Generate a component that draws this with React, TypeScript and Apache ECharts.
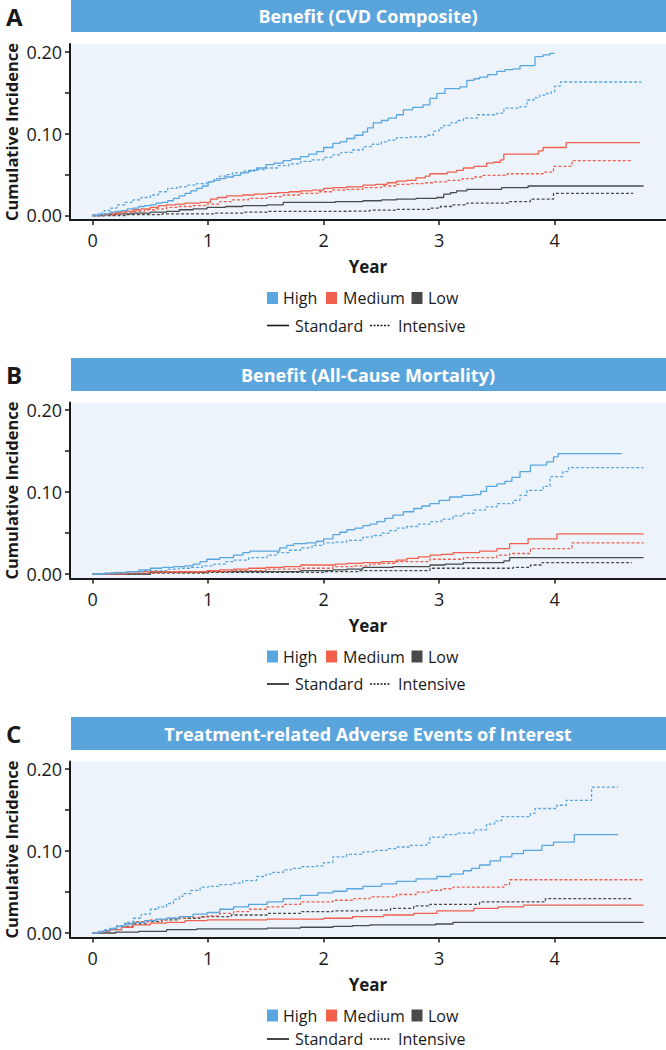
import React, { useEffect, useRef } from "react";
import * as echarts from "echarts";

const W = 666;
const H = 1050;
const FONT = '"Open Sans", "Noto Sans", sans-serif';

const PANEL_OFFSETS = [0, 358.5, 717.5];
const PANEL_LETTERS = ["A", "B", "C"];
const PANEL_TITLES = [
  "Benefit (CVD Composite)",
  "Benefit (All-Cause Mortality)",
  "Treatment-related Adverse Events of Interest",
];
const Y_NAME = "Cumulative Incidence";
const X_NAME = "Year";
const X_TICKS = [0, 1, 2, 3, 4];
const Y_TICKS = [0, 0.05, 0.1, 0.15, 0.2];
const Y_LABELS = [0, 0.1, 0.2];
const ARMS = ["Standard", "Intensive"];
const COLORS = { High: "#5AA6DF", Medium: "#F0604C", Low: "#4A4A4A" };

// Panel A: CVD composite
const aHighStd = [[0,0],[0.05,0.001],[0.1,0.002],[0.15,0.004],[0.2,0.005],[0.25,0.006],[0.3,0.008],[0.35,0.009],[0.4,0.011],[0.45,0.012],[0.5,0.013],[0.55,0.015],[0.6,0.016],[0.65,0.018],[0.7,0.021],[0.75,0.024],[0.8,0.027],[0.85,0.03],[0.9,0.033],[0.95,0.036],[1.0,0.041],[1.05,0.043],[1.1,0.045],[1.15,0.047],[1.22,0.049],[1.28,0.052],[1.35,0.055],[1.42,0.058],[1.5,0.062],[1.57,0.064],[1.65,0.067],[1.72,0.069],[1.8,0.072],[1.87,0.075],[1.94,0.078],[2.0,0.083],[2.08,0.088],[2.14,0.09],[2.2,0.094],[2.27,0.098],[2.34,0.102],[2.38,0.107],[2.43,0.113],[2.5,0.116],[2.56,0.119],[2.63,0.123],[2.69,0.129],[2.77,0.132],[2.86,0.135],[2.92,0.143],[2.98,0.149],[3.05,0.155],[3.18,0.157],[3.24,0.165],[3.3,0.167],[3.35,0.169],[3.42,0.172],[3.5,0.176],[3.57,0.178],[3.64,0.179],[3.7,0.183],[3.83,0.194],[3.9,0.196],[3.96,0.198],[4.0,0.198]];
const aHighInt = [[0,0],[0.05,0.003],[0.1,0.006],[0.15,0.009],[0.21,0.013],[0.28,0.016],[0.35,0.019],[0.42,0.022],[0.5,0.025],[0.57,0.029],[0.65,0.033],[0.73,0.035],[0.81,0.037],[0.9,0.039],[0.99,0.041],[1.05,0.045],[1.1,0.048],[1.15,0.05],[1.21,0.052],[1.3,0.054],[1.4,0.056],[1.5,0.058],[1.6,0.061],[1.7,0.063],[1.8,0.066],[1.9,0.068],[2.0,0.071],[2.08,0.074],[2.15,0.077],[2.25,0.08],[2.34,0.084],[2.42,0.087],[2.5,0.09],[2.56,0.092],[2.63,0.095],[2.75,0.096],[2.89,0.098],[2.95,0.103],[3.0,0.107],[3.04,0.11],[3.1,0.113],[3.15,0.116],[3.21,0.119],[3.33,0.123],[3.5,0.125],[3.56,0.131],[3.7,0.133],[3.76,0.141],[3.82,0.144],[3.87,0.147],[3.93,0.149],[3.97,0.151],[4.0,0.158],[4.05,0.163],[4.75,0.163]];
const aMedStd = [[0,0],[0.05,0.001],[0.1,0.002],[0.15,0.003],[0.2,0.004],[0.28,0.005],[0.35,0.007],[0.42,0.008],[0.5,0.01],[0.57,0.012],[0.64,0.013],[0.72,0.014],[0.8,0.015],[0.93,0.016],[1.02,0.02],[1.08,0.022],[1.16,0.024],[1.3,0.025],[1.4,0.026],[1.51,0.027],[1.6,0.028],[1.7,0.029],[1.8,0.03],[1.9,0.031],[2.0,0.033],[2.08,0.034],[2.2,0.035],[2.34,0.037],[2.45,0.038],[2.55,0.04],[2.63,0.042],[2.72,0.043],[2.8,0.046],[2.88,0.048],[2.92,0.051],[3.07,0.053],[3.15,0.055],[3.21,0.058],[3.3,0.06],[3.41,0.064],[3.47,0.065],[3.53,0.068],[3.56,0.075],[3.86,0.079],[3.9,0.083],[4.1,0.089],[4.74,0.089]];
const aMedInt = [[0,0],[0.1,0.001],[0.2,0.002],[0.28,0.004],[0.35,0.005],[0.45,0.007],[0.55,0.008],[0.64,0.01],[0.75,0.011],[0.87,0.012],[0.99,0.014],[1.1,0.017],[1.21,0.019],[1.35,0.021],[1.51,0.023],[1.65,0.025],[1.8,0.027],[1.95,0.029],[2.08,0.031],[2.2,0.032],[2.34,0.034],[2.5,0.036],[2.63,0.038],[2.75,0.039],[2.86,0.04],[2.96,0.041],[3.07,0.043],[3.2,0.045],[3.3,0.047],[3.38,0.049],[3.59,0.051],[3.9,0.053],[3.99,0.06],[4.15,0.067],[4.67,0.067]];
const aLowStd = [[0,0],[0.1,0.001],[0.2,0.002],[0.35,0.003],[0.5,0.004],[0.64,0.005],[0.75,0.007],[0.87,0.008],[0.99,0.01],[1.15,0.011],[1.3,0.012],[1.51,0.013],[1.65,0.016],[1.9,0.016],[2.1,0.017],[2.34,0.018],[2.5,0.019],[2.63,0.02],[2.8,0.021],[2.98,0.022],[3.04,0.026],[3.1,0.028],[3.15,0.03],[3.24,0.032],[3.54,0.034],[3.77,0.036],[4.77,0.036]];
const aLowInt = [[0,0],[0.3,0.001],[0.6,0.002],[1.05,0.003],[1.3,0.004],[1.51,0.005],[2.1,0.0055],[2.4,0.0065],[2.63,0.0075],[2.92,0.009],[3.01,0.011],[3.12,0.013],[3.24,0.015],[3.61,0.017],[3.79,0.02],[3.99,0.027],[4.68,0.027]];

// Panel B: all-cause mortality
const bHighStd = [[0,0],[0.1,0.001],[0.2,0.002],[0.3,0.003],[0.4,0.005],[0.5,0.007],[0.6,0.008],[0.7,0.009],[0.8,0.01],[0.87,0.012],[0.93,0.015],[0.99,0.018],[1.1,0.02],[1.22,0.023],[1.3,0.026],[1.36,0.028],[1.56,0.028],[1.62,0.032],[1.68,0.035],[1.74,0.037],[1.85,0.038],[1.94,0.04],[2.0,0.043],[2.08,0.048],[2.14,0.051],[2.2,0.054],[2.27,0.056],[2.34,0.059],[2.4,0.061],[2.46,0.064],[2.53,0.068],[2.6,0.072],[2.69,0.076],[2.78,0.08],[2.85,0.083],[2.92,0.086],[3.0,0.09],[3.09,0.094],[3.2,0.096],[3.3,0.097],[3.36,0.101],[3.41,0.107],[3.5,0.11],[3.57,0.113],[3.63,0.118],[3.7,0.125],[3.79,0.133],[3.93,0.137],[3.99,0.143],[4.03,0.147],[4.58,0.147]];
const bHighInt = [[0,0],[0.15,0.001],[0.3,0.003],[0.45,0.004],[0.64,0.006],[0.75,0.007],[0.85,0.008],[0.95,0.01],[1.05,0.012],[1.15,0.015],[1.22,0.017],[1.35,0.02],[1.51,0.023],[1.6,0.026],[1.7,0.029],[1.8,0.032],[1.9,0.035],[2.0,0.038],[2.1,0.039],[2.2,0.041],[2.34,0.045],[2.42,0.047],[2.5,0.05],[2.57,0.053],[2.63,0.056],[2.72,0.058],[2.82,0.061],[2.92,0.064],[3.02,0.067],[3.12,0.071],[3.21,0.074],[3.3,0.078],[3.4,0.082],[3.5,0.086],[3.64,0.09],[3.7,0.096],[3.76,0.102],[3.9,0.107],[3.96,0.119],[4.07,0.125],[4.12,0.13],[4.77,0.13]];
const bMedStd = [[0,0],[0.15,0.001],[0.3,0.003],[0.99,0.004],[1.1,0.005],[1.22,0.006],[1.35,0.007],[1.5,0.008],[1.65,0.009],[1.8,0.011],[2.1,0.012],[2.2,0.013],[2.34,0.014],[2.5,0.015],[2.63,0.017],[2.72,0.019],[2.82,0.021],[2.92,0.023],[3.02,0.024],[3.12,0.026],[3.35,0.028],[3.5,0.031],[3.61,0.037],[3.77,0.043],[4.02,0.049],[4.77,0.049]];
const bMedInt = [[0,0],[0.3,0.001],[0.6,0.002],[0.93,0.003],[1.2,0.004],[1.5,0.006],[1.8,0.007],[2.08,0.009],[2.25,0.01],[2.4,0.012],[2.5,0.013],[2.63,0.015],[2.92,0.018],[3.21,0.02],[3.5,0.023],[3.61,0.025],[3.79,0.031],[4.15,0.038],[4.77,0.038]];
const bLowStd = [[0,0],[0.5,0.002],[0.99,0.003],[1.8,0.004],[2.08,0.005],[2.2,0.006],[2.34,0.008],[2.6,0.009],[2.92,0.011],[3.05,0.012],[3.21,0.014],[3.56,0.016],[3.61,0.02],[4.77,0.02]];
const bLowInt = [[0,0],[0.5,0.001],[1.0,0.002],[2.0,0.003],[2.3,0.004],[2.92,0.007],[3.64,0.008],[3.79,0.011],[3.89,0.014],[4.67,0.014]];

// Panel C: treatment-related adverse events
const cHighStd = [[0,0],[0.05,0.001],[0.1,0.003],[0.15,0.005],[0.21,0.008],[0.28,0.011],[0.35,0.013],[0.45,0.015],[0.55,0.017],[0.64,0.018],[0.75,0.02],[0.87,0.023],[0.99,0.025],[1.1,0.029],[1.22,0.032],[1.35,0.035],[1.51,0.038],[1.65,0.042],[1.8,0.046],[1.95,0.049],[2.08,0.051],[2.2,0.054],[2.34,0.057],[2.5,0.06],[2.63,0.063],[2.8,0.066],[2.98,0.069],[3.1,0.072],[3.21,0.076],[3.28,0.079],[3.35,0.083],[3.44,0.088],[3.53,0.093],[3.63,0.097],[3.73,0.101],[3.89,0.107],[3.99,0.111],[4.17,0.12],[4.55,0.12]];
const cHighInt = [[0,0],[0.05,0.002],[0.1,0.004],[0.15,0.006],[0.21,0.009],[0.28,0.013],[0.35,0.018],[0.42,0.023],[0.5,0.029],[0.57,0.032],[0.64,0.036],[0.7,0.041],[0.75,0.045],[0.79,0.048],[0.85,0.052],[0.93,0.056],[1.0,0.057],[1.1,0.059],[1.22,0.061],[1.3,0.064],[1.42,0.069],[1.5,0.072],[1.56,0.074],[1.65,0.077],[1.72,0.079],[1.8,0.081],[1.94,0.082],[2.0,0.086],[2.08,0.093],[2.2,0.096],[2.34,0.099],[2.45,0.101],[2.55,0.103],[2.63,0.105],[2.75,0.107],[2.89,0.11],[2.92,0.117],[3.05,0.12],[3.15,0.122],[3.3,0.126],[3.41,0.133],[3.48,0.137],[3.54,0.142],[3.79,0.146],[3.83,0.152],[4.02,0.156],[4.1,0.162],[4.32,0.178],[4.55,0.178]];
const cMedStd = [[0,0],[0.05,0.001],[0.1,0.002],[0.15,0.004],[0.25,0.007],[0.35,0.01],[0.5,0.012],[0.64,0.013],[0.8,0.015],[0.99,0.016],[1.51,0.017],[2.0,0.018],[2.25,0.02],[2.52,0.022],[2.78,0.024],[2.98,0.027],[3.3,0.03],[3.51,0.032],[3.73,0.034],[4.77,0.034]];
const cMedInt = [[0,0],[0.05,0.002],[0.1,0.003],[0.15,0.005],[0.21,0.008],[0.28,0.011],[0.35,0.014],[0.5,0.016],[0.64,0.018],[0.8,0.019],[0.99,0.021],[1.1,0.024],[1.22,0.026],[1.35,0.029],[1.51,0.032],[1.65,0.035],[1.8,0.038],[2.08,0.04],[2.25,0.042],[2.4,0.044],[2.63,0.047],[2.8,0.05],[2.92,0.052],[3.02,0.054],[3.12,0.056],[3.56,0.059],[3.61,0.065],[4.77,0.065]];
const cLowStd = [[0,0],[0.2,0.001],[0.4,0.002],[0.64,0.004],[0.9,0.005],[1.51,0.006],[1.8,0.007],[2.08,0.008],[2.25,0.009],[2.4,0.01],[2.97,0.011],[3.12,0.013],[4.77,0.013]];
const cLowInt = [[0,0],[0.05,0.001],[0.1,0.002],[0.15,0.004],[0.25,0.008],[0.35,0.011],[0.47,0.014],[0.6,0.016],[0.75,0.018],[0.93,0.02],[1.2,0.022],[1.51,0.024],[1.8,0.026],[2.08,0.027],[2.35,0.028],[2.58,0.03],[2.78,0.033],[2.92,0.035],[3.35,0.038],[3.92,0.042],[4.68,0.042]];

const PANEL_DATA = [
  { Low: [aLowStd, aLowInt], Medium: [aMedStd, aMedInt], High: [aHighStd, aHighInt] },
  { Low: [bLowStd, bLowInt], Medium: [bMedStd, bMedInt], High: [bHighStd, bHighInt] },
  { Low: [cLowStd, cLowInt], Medium: [cMedStd, cMedInt], High: [cHighStd, cHighInt] },
];

function txt(text: string, x: number, y: number, font: string, fill: string, align = "left", rotation = 0) {
  return {
    type: "text", x, y, rotation, silent: true,
    style: { text, fill, font, textAlign: align, textVerticalAlign: "middle", align, verticalAlign: "middle" },
  };
}

function buildOption() {
  const grids: any[] = [];
  const xAxes: any[] = [];
  const yAxes: any[] = [];
  const series: any[] = [];
  const graphics: any[] = [];
  const ink = "#1a1a1a";

  PANEL_OFFSETS.forEach((off, i) => {
    grids.push({
      left: 70, right: 0, top: off + 44, height: 176,
      containLabel: false, outerBoundsMode: "none",
      show: true, backgroundColor: "#EDF3FB", borderWidth: 0,
    });
    xAxes.push({
      type: "value", gridIndex: i, min: -0.196, max: 4.964,
      name: X_NAME, nameLocation: "middle", nameGap: 38, nameMoveOverlap: false,
      nameTextStyle: { fontFamily: FONT, fontWeight: "bold", fontSize: 17, color: ink },
      axisLine: { show: true, onZero: false, lineStyle: { color: ink, width: 2 } },
      axisTick: { show: true, length: 5, lineStyle: { color: ink, width: 1.5 }, customValues: X_TICKS },
      axisLabel: { customValues: X_TICKS, fontFamily: FONT, fontSize: 18, color: ink, margin: 11 },
      splitLine: { show: false },
    });
    yAxes.push({
      type: "value", gridIndex: i, min: -0.0055, max: 0.2094,
      axisLine: { show: true, onZero: false, lineStyle: { color: ink, width: 2 } },
      axisTick: { show: true, length: 5, lineStyle: { color: ink, width: 1.5 }, customValues: Y_TICKS },
      axisLabel: {
        customValues: Y_LABELS, fontFamily: FONT, fontSize: 18, color: ink, margin: 8,
        formatter: (v: number) => v.toFixed(2),
      },
      splitLine: { show: false },
    });

    const pd: any = PANEL_DATA[i];
    ["Low", "Medium", "High"].forEach((g) => {
      pd[g].forEach((data: number[][], k: number) => {
        series.push({
          type: "line", name: `${g} ${ARMS[k]}`, xAxisIndex: i, yAxisIndex: i,
          step: "end", showSymbol: false, symbol: "none", silent: true,
          data,
          lineStyle: { color: (COLORS as any)[g], width: 1.3, type: k === 0 ? "solid" : [3, 2] },
        });
      });
    });

    // y-axis title (rotated)
    graphics.push(txt(Y_NAME, 11, off + 132, `bold 16.5px ${FONT}`, ink, "center", Math.PI / 2));

    // title bar
    graphics.push({
      type: "rect", silent: true,
      shape: { x: 71, y: Math.max(0, off - 0.5), width: 595, height: off === 0 ? 32 : 33 },
      style: { fill: "#5AA4DC" },
    });
    graphics.push(txt(PANEL_TITLES[i], 368, off + 16, `bold 18px ${FONT}`, "#ffffff", "center"));
    graphics.push(txt(PANEL_LETTERS[i], 6, off + 16, `bold 24px ${FONT}`, ink, "left"));

    // legend row 1: risk groups
    const r1 = off + 298;
    const sq = [
      { g: "High", x: 267, tx: 283 },
      { g: "Medium", x: 326, tx: 343 },
      { g: "Low", x: 411.5, tx: 428 },
    ];
    sq.forEach((s) => {
      graphics.push({ type: "rect", silent: true, shape: { x: s.x, y: r1 - 6, width: 11, height: 12 }, style: { fill: (COLORS as any)[s.g] } });
      graphics.push(txt(s.g, s.tx, r1, `16px ${FONT}`, ink));
    });
    // legend row 2: treatment arms
    const r2 = Math.min(off + 325.5, H - 11);
    graphics.push({ type: "line", silent: true, shape: { x1: 267, y1: r2, x2: 289, y2: r2 }, style: { stroke: ink, lineWidth: 1.6 } });
    graphics.push(txt(ARMS[0], 295, r2, `16px ${FONT}`, ink));
    graphics.push({ type: "line", silent: true, shape: { x1: 370, y1: r2, x2: 390, y2: r2 }, style: { stroke: ink, lineWidth: 1.6, lineDash: [2, 1.5] } });
    graphics.push(txt(ARMS[1], 398, r2, `16px ${FONT}`, ink));
  });

  return {
    animation: false,
    backgroundColor: "#ffffff",
    grid: grids,
    xAxis: xAxes,
    yAxis: yAxes,
    series,
    graphic: { elements: graphics },
  };
}

export default function App() {
  const ref = useRef<HTMLDivElement>(null);
  useEffect(() => {
    document.body.style.margin = "0";
    if (!ref.current) return;
    const chart = echarts.init(ref.current, undefined, { renderer: "svg", width: W, height: H });
    chart.setOption(buildOption() as any);
    return () => chart.dispose();
  }, []);
  return <div ref={ref} style={{ width: W, height: H }} />;
}
